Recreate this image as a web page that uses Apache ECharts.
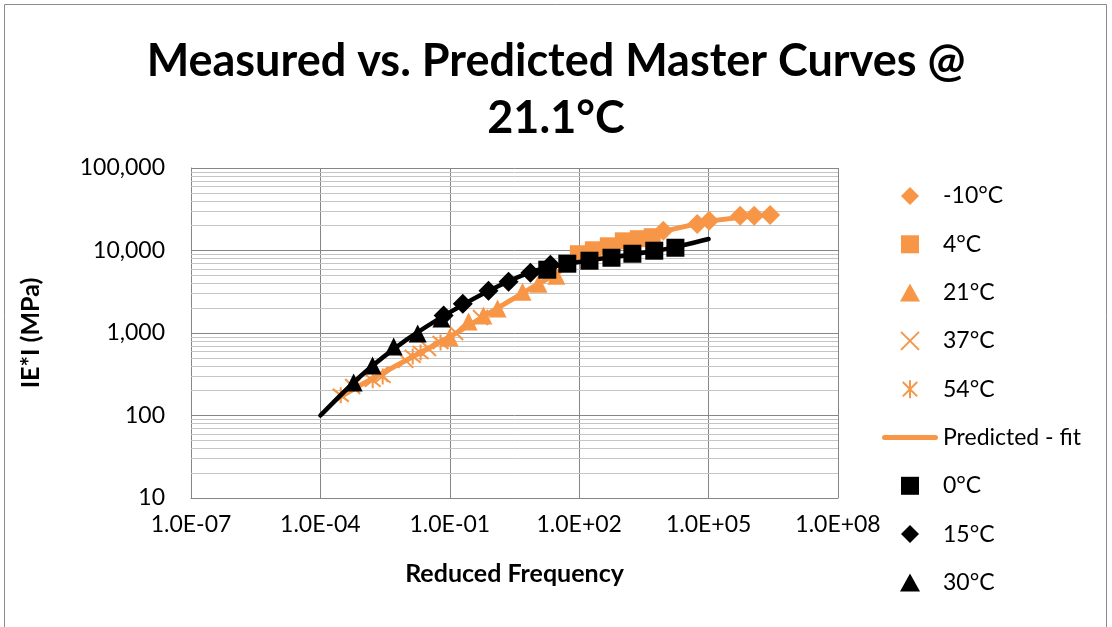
<!DOCTYPE html>
<html>
<head>
<meta charset="utf-8">
<script src="https://cdn.jsdelivr.net/npm/echarts@6/dist/echarts.min.js"></script>
<style>
html,body{margin:0;padding:0;background:#fff;}
#chart{width:1112px;height:627px;}
</style>
</head>
<body>
<div id="chart"></div>
<script>
// ---- data (reduced frequency, |E*| MPa) ----
const freqM10 = [8.9e3, 5.45e4, 1.03e5, 5.4e5, 1.14e6, 2.67e6];
const modM10  = [17300, 21000, 22900, 26300, 26300, 27000];

const freq4 = [95.7, 213, 474, 1055, 2345, 4940];
const mod4  = [9140, 10200, 11400, 13100, 13900, 14700];

const freq21 = [0.099, 0.272, 0.60, 1.28, 4.84, 11.4, 29.6];
const mod21  = [883, 1378, 1625, 1977, 3170, 3960, 4955];

const freq37 = [5.6e-4, 2.5e-3, 9.5e-3, 3.2e-2, 0.136, 0.516];
const mod37  = [225, 316, 466, 650, 1014, 1538];

const freq54 = [2.96e-4, 1.63e-3, 2.78e-3, 1.38e-2, 2.1e-2, 6.1e-2];
const mod54  = [176, 267, 298, 520, 581, 767];

const freqFit = [2.5e-4, 1e-3, 1e-2, 1e-1, 1, 10, 31.6, 100, 1e3, 1e4, 1e5, 1e6, 2.8e6];
const modFit  = [160, 245, 470, 900, 1850, 3800, 5300, 9000, 13000, 17300, 22700, 26200, 27200];

const freq0 = [18.2, 53, 173, 560, 1710, 5500, 17000];
const mod0  = [5850, 6920, 7520, 8170, 9140, 9940, 10800];

const freq15 = [0.072, 0.20, 0.79, 2.3, 7.4, 21.5];
const mod15  = [1630, 2270, 3260, 4190, 5380, 6730];

const freq30 = [5.9e-4, 1.62e-3, 5.0e-3, 1.8e-2, 6.4e-2];
const mod30  = [252, 405, 687, 986, 1500];

const freqFitBlack = [1e-4, 1e-3, 1e-2, 1e-1, 1, 10, 100, 1e3, 1e4, 1e5];
const modFitBlack  = [100, 323, 830, 1780, 3440, 5730, 7240, 8650, 10400, 13800];

// minor horizontal gridlines (2..9 within each decade)
const minorGridY = [];
[10, 100, 1000, 10000].forEach(d => { for (let k = 2; k <= 9; k++) minorGridY.push(k * d); });

const legendNames = ['-10°C','4°C','21°C','37°C','54°C','Predicted - fit','0°C','15°C','30°C'];

const ORANGE = '#F79646';
const FONT = 'Lato';

const SYM_DIAMOND = 'path://M5,0L10,5L5,10L0,5Z';
const SYM_RECT = 'path://M0,0L10,0L10,10L0,10Z';
const SYM_TRI = 'path://M5,0L10,9L0,9Z';
const SYM_X = 'path://M0,0L10,10M10,0L0,10';
const SYM_STAR = 'path://M1,1L9,9M9,1L1,9M5,0L5,10';
const SYM_LINE = 'path://M2.5,0L53.5,0A2.5,2.5 0 0 1 53.5,5L2.5,5A2.5,2.5 0 0 1 2.5,0Z';

function pairs(xs, ys){ return xs.map((x,i)=>[x, ys[i]]); }

const chart = echarts.init(document.getElementById('chart'), null, {renderer:'canvas'});

const markerBase = (name, xs, ys, symbol, size, color, extra) => Object.assign({
  name, type:'scatter', data:pairs(xs, ys), symbol, symbolSize:size, z:3,
  itemStyle:{color:color, opacity:1}
}, extra || {});

const legendIcons = [SYM_DIAMOND, SYM_RECT, SYM_TRI, SYM_X, SYM_STAR, SYM_LINE, SYM_RECT, SYM_DIAMOND, SYM_TRI];

const option = {
  animation:false,
  backgroundColor:'#fff',
  textStyle:{fontFamily:FONT},
  title:{
    text:'Measured vs. Predicted Master Curves @\n21.1°C',
    left:'center', top:28,
    textStyle:{fontFamily:FONT, fontSize:45, fontWeight:'bold', color:'#000', lineHeight:57}
  },
  graphic:[{
    type:'rect', shape:{x:4.5, y:4.5, width:1102, height:700},
    style:{fill:'none', stroke:'#8c8c8c', lineWidth:1}, silent:true, z:-10
  }],
  legend:{
    orient:'vertical', left:877, top:178,
    itemWidth:56, itemHeight:18, itemGap:22.3,
    textStyle:{fontFamily:FONT, fontSize:23, color:'#000', lineHeight:26},
    data:legendNames.map((n,i)=>({name:n, icon:legendIcons[i]}))
  },
  grid:{left:191, right:274, top:168, bottom:129, containLabel:false, show:false},
  xAxis:{
    type:'log', min:1e-7, max:1e8, interval:3, logBase:10,
    name:'Reduced Frequency', nameLocation:'middle', nameGap:63,
    nameTextStyle:{fontFamily:FONT, fontSize:25, fontWeight:'bold', color:'#000'},
    axisLine:{show:true, lineStyle:{color:'#868686', width:1}},
    axisTick:{show:false},
    axisLabel:{fontFamily:FONT, fontSize:23, color:'#000', margin:15,
      formatter:function(v){
        const e = Math.round(Math.log10(v));
        const s = e < 0 ? '-' : '+';
        const a = Math.abs(e);
        return '1.0E' + s + (a < 10 ? '0' + a : a);
      }},
    splitLine:{show:true, lineStyle:{color:'#868686', width:1}},
    minorTick:{show:false}, minorSplitLine:{show:false}
  },
  yAxis:{
    type:'log', min:10, max:100000, logBase:10,
    name:'IE*I (MPa)', nameLocation:'middle', nameGap:148, nameRotate:90,
    nameTextStyle:{fontFamily:FONT, fontSize:25, fontWeight:'bold', color:'#000'},
    axisLine:{show:true, lineStyle:{color:'#868686', width:1}},
    axisTick:{show:false},
    axisLabel:{fontFamily:FONT, fontSize:23, color:'#000', margin:26,
      formatter:function(v){ return Math.round(v).toLocaleString('en-US'); }},
    splitLine:{show:true, lineStyle:{color:'#868686', width:1}}
  },
  series:[
    {
      name:'__grid', type:'line', data:[], z:1, silent:true,
      markLine:{
        silent:true, symbol:'none', z:1, animation:false,
        label:{show:false},
        lineStyle:{color:'#c4c4c4', width:1, type:'solid'},
        emphasis:{disabled:true},
        data:minorGridY.map(v=>({yAxis:v}))
      }
    },
    markerBase('-10°C', freqM10, modM10, SYM_DIAMOND, 20, ORANGE),
    markerBase('4°C', freq4, mod4, SYM_RECT, 17, ORANGE),
    markerBase('21°C', freq21, mod21, SYM_TRI, 18, ORANGE),
    markerBase('37°C', freq37, mod37, SYM_X, 15, ORANGE,
      {itemStyle:{color:'rgba(0,0,0,0)', borderColor:ORANGE, borderWidth:2, opacity:1}}),
    markerBase('54°C', freq54, mod54, SYM_STAR, 16, ORANGE,
      {itemStyle:{color:'rgba(0,0,0,0)', borderColor:ORANGE, borderWidth:2, opacity:1}}),
    {
      name:'Predicted - fit', type:'line', data:pairs(freqFit, modFit), z:4,
      symbol:'none', smooth:false, color:ORANGE,
      itemStyle:{color:ORANGE},
      lineStyle:{color:ORANGE, width:5, cap:'round', join:'round'}
    },
    markerBase('0°C', freq0, mod0, SYM_RECT, 18, '#000', {z:5}),
    markerBase('15°C', freq15, mod15, SYM_DIAMOND, 20, '#000', {z:5}),
    markerBase('30°C', freq30, mod30, SYM_TRI, 18, '#000', {z:5}),
    {
      name:'Predicted black', type:'line', data:pairs(freqFitBlack, modFitBlack), z:6,
      symbol:'none', smooth:0.3, color:'#000',
      lineStyle:{color:'#000', width:4.5, cap:'round', join:'round'}
    }
  ]
};
chart.setOption(option);
</script>
</body>
</html>
